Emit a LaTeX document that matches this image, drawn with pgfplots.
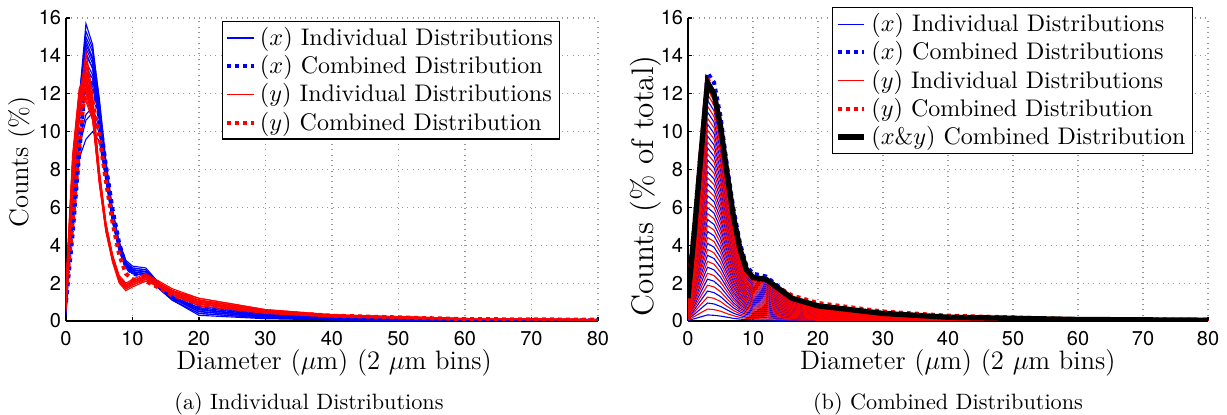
\documentclass[border=0pt]{standalone}
\usepackage{fontspec}
\newfontfamily\heros{TeX Gyre Heros}
\usepackage{pgfplots}
\usepackage{pgfplotstable}
\pgfplotsset{compat=1.18}
\definecolor{mblue}{rgb}{0,0,1}
\definecolor{mred}{rgb}{1,0,0}

\pgfplotstableread{
x b1 b2 b3 b4 b5 b6 b7 b8 b9 b10 b11 b12 b13 b14
0 0.4 0.6 0.3 0.8 0.5 0.7 0.4 0.9 0.6 0.5 1.0 1.2 1.4 1.5
1 7.0 6.8 6.5 7.2 6.3 6.6 6.9 6.0 6.4 6.2 6.7 5.5 5.2 4.8
2 11.8 11.6 11.2 11.9 11.0 11.3 11.5 10.8 11.1 10.9 11.0 9.5 9.2 8.6
3 15.7 15.3 15.0 14.8 14.6 14.4 14.2 14.0 13.7 13.4 12.8 10.9 10.6 9.6
4 14.6 14.4 14.2 13.9 13.8 13.6 13.3 13.4 13.0 12.8 12.4 11.3 11.0 10.0
5 11.6 11.8 11.3 11.0 11.4 11.0 10.8 11.2 10.9 10.6 10.7 10.2 9.9 9.5
6 8.2 8.5 8.0 7.9 8.3 7.8 7.7 8.1 7.9 7.6 7.8 7.6 7.5 7.4
7 5.6 5.9 5.5 5.4 5.8 5.3 5.3 5.7 5.5 5.2 5.5 5.4 5.3 5.3
8 4.0 4.2 3.9 3.8 4.1 3.8 3.7 4.0 3.9 3.7 3.9 3.9 3.8 3.8
9 3.0 3.2 3.0 2.9 3.1 2.9 2.8 3.1 3.0 2.8 3.0 3.0 2.9 2.9
10 2.7 2.9 2.7 2.6 2.8 2.6 2.5 2.8 2.7 2.5 2.7 2.7 2.6 2.6
12 2.6 2.8 2.6 2.5 2.7 2.5 2.4 2.7 2.6 2.4 2.6 2.6 2.5 2.5
14 1.9 2.0 1.9 1.8 2.0 1.8 1.7 2.0 1.9 1.7 1.9 1.9 1.8 1.8
16 1.3 1.4 1.2 1.2 1.4 1.2 1.1 1.3 1.3 1.1 1.3 1.2 1.2 1.1
20 0.6 0.8 0.5 0.6 0.9 0.5 0.4 0.7 0.6 0.3 0.7 0.5 0.6 0.4
30 0.25 0.35 0.2 0.25 0.4 0.2 0.15 0.3 0.25 0.12 0.3 0.2 0.25 0.15
40 0.12 0.18 0.1 0.12 0.2 0.1 0.07 0.15 0.12 0.06 0.15 0.1 0.12 0.08
60 0.04 0.06 0.03 0.04 0.07 0.03 0.02 0.05 0.04 0.02 0.05 0.03 0.04 0.03
80 0.02 0.03 0.02 0.02 0.03 0.01 0.01 0.02 0.02 0.01 0.02 0.02 0.02 0.01
}\tblue

\pgfplotstableread{
x r1 r2 r3 r4 r5 r6 r7 r8 r9 r10 r11 r12 r13 r14
0 0.8 1.2 0.5 1.5 1.0 2.0 0.7 1.3 0.9 1.8 1.1 0.6 1.6 1.4
1 7.5 8.0 7.0 8.5 7.8 8.8 7.2 8.2 7.6 8.6 7.4 6.8 8.3 7.9
2 11.5 12.0 11.2 12.2 11.8 12.3 11.0 11.9 11.4 12.1 11.6 10.8 11.7 11.3
3 14.2 13.8 13.5 13.2 13.0 12.8 12.6 12.5 12.3 12.2 12.0 11.8 11.6 12.9
4 12.0 11.7 11.5 11.2 11.3 11.0 11.2 10.9 11.0 10.8 10.9 10.7 10.6 11.4
5 8.0 7.8 7.9 7.5 7.7 7.4 7.8 7.5 7.6 7.3 7.6 7.5 7.3 7.8
6 5.1 5.0 5.2 4.8 5.0 4.8 5.1 4.9 5.0 4.7 5.0 5.0 4.8 5.1
7 3.4 3.3 3.5 3.2 3.4 3.2 3.4 3.3 3.3 3.1 3.4 3.4 3.2 3.4
8 2.3 2.2 2.4 2.1 2.3 2.1 2.3 2.2 2.2 2.0 2.3 2.3 2.1 2.3
9 1.9 1.8 2.0 1.7 1.9 1.7 1.9 1.8 1.8 1.6 1.9 1.9 1.7 1.9
10 2.1 2.0 2.2 1.9 2.1 1.9 2.1 2.0 2.0 1.8 2.1 2.1 1.9 2.1
12 2.4 2.3 2.5 2.2 2.4 2.2 2.4 2.3 2.3 2.1 2.4 2.4 2.2 2.4
14 2.0 1.9 2.1 1.9 2.0 1.8 2.0 1.9 1.9 1.8 2.0 2.0 1.8 2.0
16 1.6 1.5 1.7 1.5 1.6 1.5 1.6 1.5 1.5 1.4 1.6 1.6 1.4 1.6
20 1.1 1.0 1.2 0.9 1.1 0.9 1.0 1.0 1.0 0.8 1.1 1.1 0.9 1.2
30 0.55 0.5 0.6 0.45 0.55 0.45 0.5 0.5 0.5 0.4 0.55 0.55 0.45 0.6
40 0.3 0.28 0.33 0.25 0.3 0.25 0.28 0.27 0.27 0.22 0.3 0.3 0.25 0.33
60 0.12 0.11 0.13 0.1 0.12 0.1 0.11 0.11 0.11 0.09 0.12 0.12 0.1 0.13
80 0.07 0.06 0.08 0.06 0.07 0.06 0.07 0.06 0.06 0.05 0.07 0.07 0.06 0.08
}\tred

\pgfplotstableread{
x bc rc xy
0 1.0 1.6 1.2
1 4.6 5.2 4.8
2 8.9 9.2 8.8
3 13.1 12.9 12.6
4 12.6 11.6 12.0
5 10.8 9.8 10.3
6 8.2 7.4 7.8
7 5.9 5.2 5.5
8 4.1 3.5 3.8
9 2.9 2.5 2.7
10 2.5 2.2 2.3
12 2.35 2.1 2.2
14 1.8 1.75 1.7
16 1.2 1.35 1.2
20 0.75 0.95 0.8
30 0.3 0.5 0.4
40 0.15 0.28 0.2
60 0.05 0.1 0.08
80 0.03 0.07 0.04
}\tcomb

\pgfplotstableread{
x c1 c2 c3 c4 c5 c6 c7 c8 c9 c10 c11 c12 c13 c14 c15 c16 c17 c18 c19 c20 c21 c22 c23 c24 c25 c26 c27 c28 c29 c30 c31 c32 c33 c34 c35 c36 c37 c38 c39 c40
0 0.03 0.06 0.09 0.12 0.15 0.18 0.21 0.24 0.27 0.30 0.33 0.36 0.39 0.42 0.45 0.48 0.51 0.54 0.57 0.60 0.63 0.66 0.69 0.72 0.75 0.78 0.81 0.84 0.87 0.90 0.93 0.96 0.99 1.02 1.05 1.08 1.11 1.14 1.17 1.20
1 0.12 0.24 0.36 0.48 0.60 0.72 0.84 0.96 1.08 1.20 1.32 1.44 1.56 1.68 1.80 1.92 2.04 2.16 2.28 2.40 2.52 2.64 2.76 2.88 3.00 3.12 3.24 3.36 3.48 3.60 3.72 3.84 3.96 4.08 4.20 4.32 4.44 4.56 4.68 4.80
2 0.22 0.44 0.66 0.88 1.10 1.32 1.54 1.76 1.98 2.20 2.42 2.64 2.86 3.08 3.30 3.52 3.74 3.96 4.18 4.40 4.62 4.84 5.06 5.28 5.50 5.72 5.94 6.16 6.38 6.60 6.82 7.04 7.26 7.48 7.70 7.92 8.14 8.36 8.58 8.80
3 0.32 0.63 0.95 1.26 1.58 1.89 2.21 2.52 2.84 3.15 3.47 3.78 4.10 4.41 4.73 5.04 5.36 5.67 5.99 6.30 6.62 6.93 7.25 7.56 7.88 8.19 8.51 8.82 9.14 9.45 9.77 10.08 10.40 10.71 11.03 11.34 11.66 11.97 12.29 12.60
4 0.3 0.6 0.9 1.2 1.5 1.8 2.1 2.4 2.7 3.0 3.3 3.6 3.9 4.2 4.5 4.8 5.1 5.4 5.7 6.0 6.3 6.6 6.9 7.2 7.5 7.8 8.1 8.4 8.7 9.0 9.3 9.6 9.9 10.2 10.5 10.8 11.1 11.4 11.7 12.0
5 0.26 0.52 0.77 1.03 1.29 1.55 1.80 2.06 2.32 2.58 2.83 3.09 3.35 3.61 3.86 4.12 4.38 4.64 4.89 5.15 5.41 5.67 5.92 6.18 6.44 6.70 6.95 7.21 7.47 7.73 7.98 8.24 8.50 8.76 9.01 9.27 9.53 9.79 10.04 10.30
6 0.20 0.39 0.59 0.78 0.98 1.17 1.37 1.56 1.76 1.95 2.15 2.34 2.54 2.73 2.93 3.12 3.32 3.51 3.71 3.90 4.10 4.29 4.49 4.68 4.88 5.07 5.27 5.46 5.66 5.85 6.05 6.24 6.44 6.63 6.83 7.02 7.22 7.41 7.61 7.80
7 0.14 0.28 0.41 0.55 0.69 0.83 0.96 1.10 1.24 1.38 1.51 1.65 1.79 1.93 2.06 2.20 2.34 2.48 2.61 2.75 2.89 3.03 3.16 3.30 3.44 3.58 3.71 3.85 3.99 4.13 4.26 4.40 4.54 4.68 4.81 4.95 5.09 5.23 5.36 5.50
8 0.10 0.19 0.29 0.38 0.48 0.57 0.67 0.76 0.86 0.95 1.05 1.14 1.24 1.33 1.43 1.52 1.62 1.71 1.81 1.90 2.00 2.09 2.19 2.28 2.38 2.47 2.57 2.66 2.76 2.85 2.95 3.04 3.14 3.23 3.33 3.42 3.52 3.61 3.71 3.80
9 0.07 0.14 0.20 0.27 0.34 0.41 0.47 0.54 0.61 0.68 0.74 0.81 0.88 0.95 1.01 1.08 1.15 1.22 1.28 1.35 1.42 1.49 1.55 1.62 1.69 1.76 1.82 1.89 1.96 2.03 2.09 2.16 2.23 2.30 2.36 2.43 2.50 2.57 2.63 2.70
10 0.06 0.12 0.17 0.23 0.29 0.35 0.40 0.46 0.52 0.58 0.63 0.69 0.75 0.81 0.86 0.92 0.98 1.04 1.09 1.15 1.21 1.27 1.32 1.38 1.44 1.50 1.55 1.61 1.67 1.73 1.78 1.84 1.90 1.96 2.01 2.07 2.13 2.19 2.24 2.30
12 0.06 0.11 0.17 0.22 0.28 0.33 0.39 0.44 0.50 0.55 0.61 0.66 0.72 0.77 0.83 0.88 0.94 0.99 1.05 1.10 1.16 1.21 1.27 1.32 1.38 1.43 1.49 1.54 1.60 1.65 1.71 1.76 1.82 1.87 1.93 1.98 2.04 2.09 2.15 2.20
14 0.04 0.09 0.13 0.17 0.21 0.26 0.30 0.34 0.38 0.43 0.47 0.51 0.55 0.60 0.64 0.68 0.72 0.77 0.81 0.85 0.89 0.94 0.98 1.02 1.06 1.11 1.15 1.19 1.23 1.28 1.32 1.36 1.40 1.45 1.49 1.53 1.57 1.62 1.66 1.70
16 0.03 0.06 0.09 0.12 0.15 0.18 0.21 0.24 0.27 0.30 0.33 0.36 0.39 0.42 0.45 0.48 0.51 0.54 0.57 0.60 0.63 0.66 0.69 0.72 0.75 0.78 0.81 0.84 0.87 0.90 0.93 0.96 0.99 1.02 1.05 1.08 1.11 1.14 1.17 1.20
20 0.02 0.04 0.06 0.08 0.10 0.12 0.14 0.16 0.18 0.20 0.22 0.24 0.26 0.28 0.30 0.32 0.34 0.36 0.38 0.40 0.42 0.44 0.46 0.48 0.50 0.52 0.54 0.56 0.58 0.60 0.62 0.64 0.66 0.68 0.70 0.72 0.74 0.76 0.78 0.80
30 0.01 0.02 0.03 0.04 0.05 0.06 0.07 0.08 0.09 0.10 0.11 0.12 0.13 0.14 0.15 0.16 0.17 0.18 0.19 0.20 0.21 0.22 0.23 0.24 0.25 0.26 0.27 0.28 0.29 0.30 0.31 0.32 0.33 0.34 0.35 0.36 0.37 0.38 0.39 0.40
40 0.005 0.010 0.015 0.020 0.025 0.030 0.035 0.040 0.045 0.050 0.055 0.060 0.065 0.070 0.075 0.080 0.085 0.090 0.095 0.100 0.105 0.110 0.115 0.120 0.125 0.130 0.135 0.140 0.145 0.150 0.155 0.160 0.165 0.170 0.175 0.180 0.185 0.190 0.195 0.200
60 0.002 0.004 0.006 0.008 0.010 0.012 0.014 0.016 0.018 0.020 0.022 0.024 0.026 0.028 0.030 0.032 0.034 0.036 0.038 0.040 0.042 0.044 0.046 0.048 0.050 0.052 0.054 0.056 0.058 0.060 0.062 0.064 0.066 0.068 0.070 0.072 0.074 0.076 0.078 0.080
80 0.001 0.002 0.003 0.004 0.005 0.006 0.007 0.008 0.009 0.010 0.011 0.012 0.013 0.014 0.015 0.016 0.017 0.018 0.019 0.020 0.021 0.022 0.023 0.024 0.025 0.026 0.027 0.028 0.029 0.030 0.031 0.032 0.033 0.034 0.035 0.036 0.037 0.038 0.039 0.040
}\tright

\pgfplotsset{
  mystyle/.style={
    scale only axis, height=136.35pt,
    xmin=0,xmax=80,ymin=0,ymax=16,
    xtick={0,10,...,80}, ytick={0,2,...,16},
    axis x line=bottom, axis y line=left, axis line style={-, line width=0.5pt},
    tick align=inside, major tick length=2pt,
    tick style={line width=0.5pt, black},
    grid=major, major grid style={dotted, gray!80, line width=0.5pt},
    tick label style={font=\heros\fontsize{9}{10}\selectfont},
    xticklabel style={yshift=-1.2pt},
    yticklabel style={xshift=1.3pt},
    /pgf/number format/assume math mode=true,
    label style={font=\fontsize{12}{14}\selectfont},
    xlabel={Diameter ($\mu$m) (2 $\mu$m bins)},
    legend cell align=left,
    legend style={font=\fontsize{10.8}{12.6}\selectfont, draw=black, line width=0.6pt, fill=white, inner xsep=1pt, inner ysep=0.5pt, row sep=-1pt},
    legend image code/.code={\draw[##1] (0cm,0cm) -- (0.42cm,0cm);},
  },
  indiv/.style={line width=0.5pt, forget plot},
  comb/.style={line width=1.8pt, dash pattern=on 1.8pt off 1.8pt},
}

\begin{document}
\begin{tikzpicture}
\useasboundingbox (-29.7pt,-42.3pt) rectangle (522.45pt,144.45pt);

\begin{axis}[mystyle, width=239.4pt,
  ylabel={Counts (\%)},
  xlabel style={at={(axis description cs:0.504,-0.159)}, anchor=base},
  ylabel style={at={(axis description cs:-0.0827,0.525)}, anchor=center},
  legend style={at={(0.929,0.99)}, anchor=north east},
]
\pgfplotsinvokeforeach{1,...,14}{\addplot[mblue, indiv] table[x=x,y=b#1]{\tblue};}
\addplot[mblue, comb, forget plot] table[x=x,y=bc]{\tcomb};
\pgfplotsinvokeforeach{1,...,14}{\addplot[mred, indiv] table[x=x,y=r#1]{\tred};}
\addplot[mred, comb, forget plot] table[x=x,y=rc]{\tcomb};
\addlegendimage{mblue, line width=0.5pt}
\addlegendentry{$(x)$ Individual Distributions}
\addlegendimage{mblue, comb}
\addlegendentry{$(x)$ Combined Distribution}
\addlegendimage{mred, line width=0.5pt}
\addlegendentry{$(y)$ Individual Distributions}
\addlegendimage{mred, comb}
\addlegendentry{$(y)$ Combined Distribution}
\end{axis}

\begin{axis}[mystyle, width=234pt, at={(279.9pt,0pt)},
  ylabel={Counts (\% of total)},
  xlabel style={at={(axis description cs:0.519,-0.159)}, anchor=base},
  ylabel style={at={(axis description cs:-0.081,0.446)}, anchor=center, font=\fontsize{14}{16}\selectfont},
  legend style={at={(0.971,1.036)}, anchor=north east},
]
\pgfplotsinvokeforeach{1,3,...,39}{\addplot[mblue, indiv] table[x=x,y=c#1]{\tright};}
\addplot[mblue, comb, forget plot] table[x=x,y=bc]{\tcomb};
\pgfplotsinvokeforeach{2,4,...,40}{\addplot[mred, indiv] table[x=x,y=c#1]{\tright};}
\addplot[mred, comb, forget plot] table[x=x,y=rc]{\tcomb};
\addplot[black, line width=2.4pt, forget plot] table[x=x,y=xy]{\tcomb};
\addlegendimage{mblue, line width=0.5pt}
\addlegendentry{$(x)$ Individual Distributions}
\addlegendimage{mblue, comb}
\addlegendentry{$(x)$ Combined Distributions}
\addlegendimage{mred, line width=0.5pt}
\addlegendentry{$(y)$ Individual Distributions}
\addlegendimage{mred, comb}
\addlegendentry{$(y)$ Combined Distribution}
\addlegendimage{black, line width=2.4pt}
\addlegendentry{$(x\&y)$ Combined Distribution}
\end{axis}

\node[font=\fontsize{10}{12}\selectfont, anchor=base] at (109.35pt,-40pt) {(a) Individual Distributions};
\node[font=\fontsize{10}{12}\selectfont, anchor=base] at (396.9pt,-40pt) {(b) Combined Distributions};
\end{tikzpicture}
\end{document}
